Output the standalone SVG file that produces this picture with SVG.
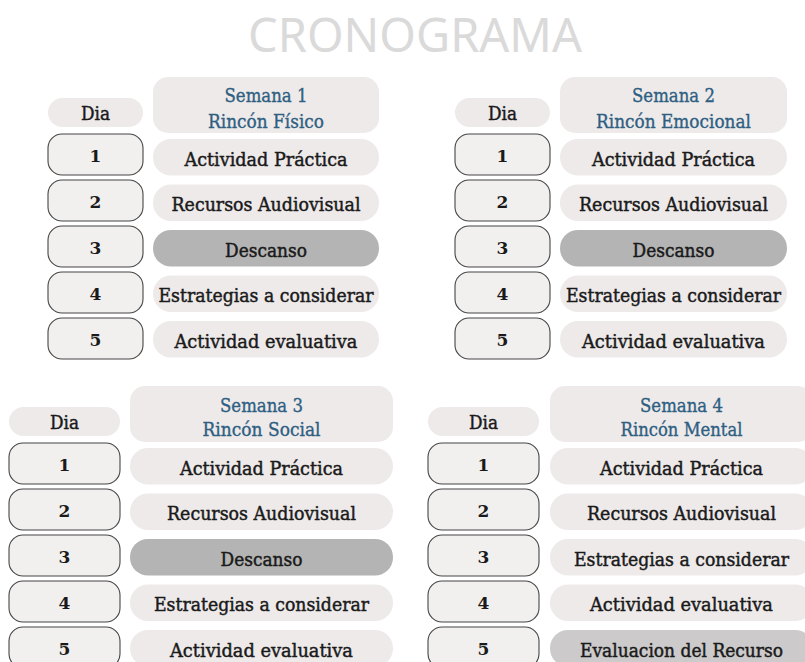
<svg xmlns="http://www.w3.org/2000/svg" width="805" height="662" viewBox="0 0 805 662">
<style>
.bg{fill:#ffffff}
.title{font-family:"Noto Sans","Liberation Sans",sans-serif;font-size:48px;fill:#dadada;text-anchor:middle}
.hdr{fill:#eeeaea}
.pill{fill:#eeeaea}
.rest{fill:#b4b4b4}
.evalr{fill:#cccaca}
.day{fill:#f2efef;stroke:#454545;stroke-width:1.1}
.t{font-family:"DejaVu Serif","Liberation Serif",serif;font-size:18px;fill:#1a1a1a;stroke:#1a1a1a;stroke-width:0.45;text-anchor:middle}
.h{font-family:"DejaVu Serif","Liberation Serif",serif;font-size:18px;fill:#2e5f82;stroke:#2e5f82;stroke-width:0.35;text-anchor:middle}
.n{font-family:"DejaVu Serif","Liberation Serif",serif;font-size:17px;font-weight:bold;fill:#1a1a1a;text-anchor:middle}
</style>
<rect class="bg" x="0" y="0" width="805" height="662"/>
<text class="title" x="415" y="52" textLength="334" lengthAdjust="spacingAndGlyphs">CRONOGRAMA</text>

<!-- Semana 1 -->
<g id="semana1">
  <g id="s1-header"><rect class="hdr" x="153" y="77" width="226" height="56" rx="15"/>
    <text class="h" x="266" y="102" textLength="83" lengthAdjust="spacingAndGlyphs">Semana 1</text>
    <text class="h" x="266" y="128" textLength="116" lengthAdjust="spacingAndGlyphs">Rincón Físico</text></g>
  <g id="s1-dia"><rect class="pill" x="48" y="98" width="95" height="29" rx="14.5"/><text class="t" x="95.5" y="120" textLength="29" lengthAdjust="spacingAndGlyphs">Dia</text></g>
  <g id="s1-d1"><rect class="day" x="48" y="134" width="95" height="41" rx="14"/><text class="n" x="95.5" y="161.5">1</text></g>
  <g id="s1-a1"><rect class="pill" x="153" y="139" width="226" height="36.5" rx="18"/><text class="t" x="266" y="165.5" textLength="163" lengthAdjust="spacingAndGlyphs">Actividad Práctica</text></g>
  <g id="s1-d2"><rect class="day" x="48" y="180" width="95" height="41" rx="14"/><text class="n" x="95.5" y="207.5">2</text></g>
  <g id="s1-a2"><rect class="pill" x="153" y="184.5" width="226" height="36.5" rx="18"/><text class="t" x="266" y="211" textLength="189" lengthAdjust="spacingAndGlyphs">Recursos Audiovisual</text></g>
  <g id="s1-d3"><rect class="day" x="48" y="226" width="95" height="41" rx="14"/><text class="n" x="95.5" y="253.5">3</text></g>
  <g id="s1-a3"><rect class="rest" x="153" y="230" width="226" height="36.5" rx="18"/><text class="t" x="266" y="256.5" textLength="82" lengthAdjust="spacingAndGlyphs">Descanso</text></g>
  <g id="s1-d4"><rect class="day" x="48" y="272" width="95" height="41" rx="14"/><text class="n" x="95.5" y="299.5">4</text></g>
  <g id="s1-a4"><rect class="pill" x="153" y="275.5" width="226" height="36.5" rx="18"/><text class="t" x="266" y="302" textLength="215" lengthAdjust="spacingAndGlyphs">Estrategias a considerar</text></g>
  <g id="s1-d5"><rect class="day" x="48" y="318" width="95" height="41" rx="14"/><text class="n" x="95.5" y="345.5">5</text></g>
  <g id="s1-a5"><rect class="pill" x="153" y="321" width="226" height="36.5" rx="18"/><text class="t" x="266" y="347.5" textLength="183" lengthAdjust="spacingAndGlyphs">Actividad evaluativa</text></g>
</g>

<!-- Semana 2 -->
<g id="semana2">
  <g id="s2-header"><rect class="hdr" x="560" y="77" width="227" height="56" rx="15"/>
    <text class="h" x="673.5" y="102" textLength="83" lengthAdjust="spacingAndGlyphs">Semana 2</text>
    <text class="h" x="673.5" y="128" textLength="155" lengthAdjust="spacingAndGlyphs">Rincón Emocional</text></g>
  <g id="s2-dia"><rect class="pill" x="455" y="98" width="95" height="29" rx="14.5"/><text class="t" x="502.5" y="120" textLength="29" lengthAdjust="spacingAndGlyphs">Dia</text></g>
  <g id="s2-d1"><rect class="day" x="455" y="134" width="95" height="41" rx="14"/><text class="n" x="502.5" y="161.5">1</text></g>
  <g id="s2-a1"><rect class="pill" x="560" y="139" width="227" height="36.5" rx="18"/><text class="t" x="673.5" y="165.5" textLength="163" lengthAdjust="spacingAndGlyphs">Actividad Práctica</text></g>
  <g id="s2-d2"><rect class="day" x="455" y="180" width="95" height="41" rx="14"/><text class="n" x="502.5" y="207.5">2</text></g>
  <g id="s2-a2"><rect class="pill" x="560" y="184.5" width="227" height="36.5" rx="18"/><text class="t" x="673.5" y="211" textLength="189" lengthAdjust="spacingAndGlyphs">Recursos Audiovisual</text></g>
  <g id="s2-d3"><rect class="day" x="455" y="226" width="95" height="41" rx="14"/><text class="n" x="502.5" y="253.5">3</text></g>
  <g id="s2-a3"><rect class="rest" x="560" y="230" width="227" height="36.5" rx="18"/><text class="t" x="673.5" y="256.5" textLength="82" lengthAdjust="spacingAndGlyphs">Descanso</text></g>
  <g id="s2-d4"><rect class="day" x="455" y="272" width="95" height="41" rx="14"/><text class="n" x="502.5" y="299.5">4</text></g>
  <g id="s2-a4"><rect class="pill" x="560" y="275.5" width="227" height="36.5" rx="18"/><text class="t" x="673.5" y="302" textLength="215" lengthAdjust="spacingAndGlyphs">Estrategias a considerar</text></g>
  <g id="s2-d5"><rect class="day" x="455" y="318" width="95" height="41" rx="14"/><text class="n" x="502.5" y="345.5">5</text></g>
  <g id="s2-a5"><rect class="pill" x="560" y="321" width="227" height="36.5" rx="18"/><text class="t" x="673.5" y="347.5" textLength="183" lengthAdjust="spacingAndGlyphs">Actividad evaluativa</text></g>
</g>

<!-- Semana 3 -->
<g id="semana3">
  <g id="s3-header"><rect class="hdr" x="130" y="386" width="263" height="56" rx="15"/>
    <text class="h" x="261.5" y="411.5" textLength="83" lengthAdjust="spacingAndGlyphs">Semana 3</text>
    <text class="h" x="261.5" y="436" textLength="118" lengthAdjust="spacingAndGlyphs">Rincón Social</text></g>
  <g id="s3-dia"><rect class="pill" x="9" y="407" width="111" height="29" rx="14.5"/><text class="t" x="64.5" y="429" textLength="29" lengthAdjust="spacingAndGlyphs">Dia</text></g>
  <g id="s3-d1"><rect class="day" x="9" y="443" width="111" height="41" rx="14"/><text class="n" x="64.5" y="470.5">1</text></g>
  <g id="s3-a1"><rect class="pill" x="130" y="448" width="263" height="36.5" rx="18"/><text class="t" x="261.5" y="474.5" textLength="163" lengthAdjust="spacingAndGlyphs">Actividad Práctica</text></g>
  <g id="s3-d2"><rect class="day" x="9" y="489" width="111" height="41" rx="14"/><text class="n" x="64.5" y="516.5">2</text></g>
  <g id="s3-a2"><rect class="pill" x="130" y="493.5" width="263" height="36.5" rx="18"/><text class="t" x="261.5" y="520" textLength="189" lengthAdjust="spacingAndGlyphs">Recursos Audiovisual</text></g>
  <g id="s3-d3"><rect class="day" x="9" y="535" width="111" height="41" rx="14"/><text class="n" x="64.5" y="562.5">3</text></g>
  <g id="s3-a3"><rect class="rest" x="130" y="539" width="263" height="36.5" rx="18"/><text class="t" x="261.5" y="565.5" textLength="82" lengthAdjust="spacingAndGlyphs">Descanso</text></g>
  <g id="s3-d4"><rect class="day" x="9" y="581" width="111" height="41" rx="14"/><text class="n" x="64.5" y="608.5">4</text></g>
  <g id="s3-a4"><rect class="pill" x="130" y="584.5" width="263" height="36.5" rx="18"/><text class="t" x="261.5" y="611" textLength="215" lengthAdjust="spacingAndGlyphs">Estrategias a considerar</text></g>
  <g id="s3-d5"><rect class="day" x="9" y="627" width="111" height="41" rx="14"/><text class="n" x="64.5" y="654.5">5</text></g>
  <g id="s3-a5"><rect class="pill" x="130" y="630" width="263" height="36.5" rx="18"/><text class="t" x="261.5" y="656.5" textLength="183" lengthAdjust="spacingAndGlyphs">Actividad evaluativa</text></g>
</g>

<!-- Semana 4 -->
<g id="semana4">
  <g id="s4-header"><rect class="hdr" x="550" y="386" width="263" height="56" rx="15"/>
    <text class="h" x="681.5" y="411.5" textLength="83" lengthAdjust="spacingAndGlyphs">Semana 4</text>
    <text class="h" x="681.5" y="436" textLength="122" lengthAdjust="spacingAndGlyphs">Rincón Mental</text></g>
  <g id="s4-dia"><rect class="pill" x="428" y="407" width="111" height="29" rx="14.5"/><text class="t" x="483.5" y="429" textLength="29" lengthAdjust="spacingAndGlyphs">Dia</text></g>
  <g id="s4-d1"><rect class="day" x="428" y="443" width="111" height="41" rx="14"/><text class="n" x="483.5" y="470.5">1</text></g>
  <g id="s4-a1"><rect class="pill" x="550" y="448" width="263" height="36.5" rx="18"/><text class="t" x="681.5" y="474.5" textLength="163" lengthAdjust="spacingAndGlyphs">Actividad Práctica</text></g>
  <g id="s4-d2"><rect class="day" x="428" y="489" width="111" height="41" rx="14"/><text class="n" x="483.5" y="516.5">2</text></g>
  <g id="s4-a2"><rect class="pill" x="550" y="493.5" width="263" height="36.5" rx="18"/><text class="t" x="681.5" y="520" textLength="189" lengthAdjust="spacingAndGlyphs">Recursos Audiovisual</text></g>
  <g id="s4-d3"><rect class="day" x="428" y="535" width="111" height="41" rx="14"/><text class="n" x="483.5" y="562.5">3</text></g>
  <g id="s4-a3"><rect class="pill" x="550" y="539" width="263" height="36.5" rx="18"/><text class="t" x="681.5" y="565.5" textLength="215" lengthAdjust="spacingAndGlyphs">Estrategias a considerar</text></g>
  <g id="s4-d4"><rect class="day" x="428" y="581" width="111" height="41" rx="14"/><text class="n" x="483.5" y="608.5">4</text></g>
  <g id="s4-a4"><rect class="pill" x="550" y="584.5" width="263" height="36.5" rx="18"/><text class="t" x="681.5" y="611" textLength="183" lengthAdjust="spacingAndGlyphs">Actividad evaluativa</text></g>
  <g id="s4-d5"><rect class="day" x="428" y="627" width="111" height="41" rx="14"/><text class="n" x="483.5" y="654.5">5</text></g>
  <g id="s4-a5"><rect class="evalr" x="550" y="630" width="263" height="36.5" rx="18"/><text class="t" x="681.5" y="656.5" textLength="203" lengthAdjust="spacingAndGlyphs">Evaluacion del Recurso</text></g>
</g>
</svg>
